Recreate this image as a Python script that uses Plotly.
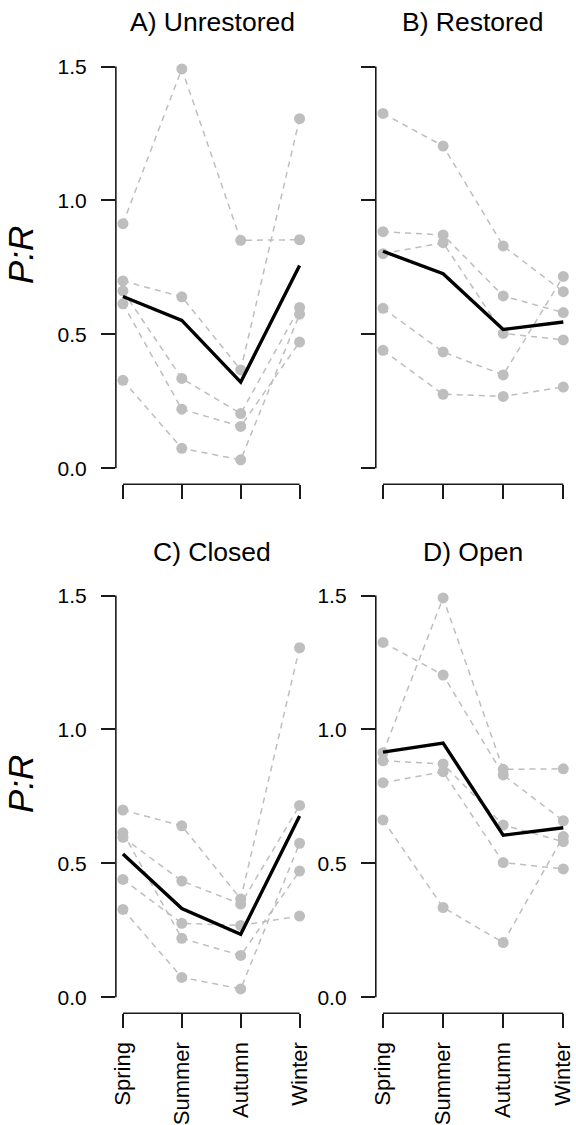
import plotly.graph_objects as go

# ---------------- data ----------------
seasons = ["Spring", "Summer", "Autumn", "Winter"]
season_pos = [1, 2, 3, 4]

# individual sites (P:R by season)
site_u1 = [0.913, 1.491, 0.851, 0.853]
site_u2 = [0.699, 0.640, 0.367, 1.305]
site_u3 = [0.662, 0.335, 0.204, 0.600]
site_u4 = [0.614, 0.220, 0.156, 0.471]
site_u5 = [0.328, 0.074, 0.031, 0.575]
site_r1 = [1.325, 1.203, 0.830, 0.659]
site_r2 = [0.883, 0.871, 0.643, 0.581]
site_r3 = [0.801, 0.842, 0.503, 0.479]
site_r4 = [0.597, 0.434, 0.348, 0.716]
site_r5 = [0.440, 0.276, 0.268, 0.303]

panel_titles = ["A) Unrestored", "B) Restored", "C) Closed", "D) Open"]
panel_a_sites = [site_u1, site_u2, site_u3, site_u4, site_u5]
panel_b_sites = [site_r1, site_r2, site_r3, site_r4, site_r5]
panel_c_sites = [site_u2, site_u4, site_u5, site_r4, site_r5]
panel_d_sites = [site_u1, site_u3, site_r1, site_r2, site_r3]

panel_a_mean = [0.641, 0.552, 0.321, 0.757]
panel_b_mean = [0.810, 0.726, 0.518, 0.546]
panel_c_mean = [0.535, 0.331, 0.235, 0.677]
panel_d_mean = [0.915, 0.949, 0.605, 0.633]

y_ticks = [0.0, 0.5, 1.0, 1.5]
y_tick_text = ["0.0", "0.5", "1.0", "1.5"]

# ---------------- layout geometry ----------------
W, H = 576, 1125
FONT = "Liberation Sans, Arial, Helvetica, sans-serif"
GRAY = "#BEBEBE"
AX = "#1a1a1a"


def fx(px):
    return px / W


def fy(py):
    return 1 - py / H


col_x = [(112, 306.5), (377, 575.5)]
row_y = [(50.6, 485.5), (581, 1016)]  # top, bottom in page px
title_x = [210.5, 476]
title_y = [22, 553.5]

panels = [
    (panel_a_sites, panel_a_mean, 0, 0),
    (panel_b_sites, panel_b_mean, 0, 1),
    (panel_c_sites, panel_c_mean, 1, 0),
    (panel_d_sites, panel_d_mean, 1, 1),
]

fig = go.Figure()
shapes = []
annotations = []

for i, (sites, mean, r, c) in enumerate(panels):
    n = i + 1
    xa = "x" if n == 1 else f"x{n}"
    ya = "y" if n == 1 else f"y{n}"
    for s in sites:
        fig.add_trace(go.Scatter(
            x=season_pos, y=s, xaxis=xa, yaxis=ya, mode="lines+markers",
            line=dict(color=GRAY, width=1.5, dash="6px,5px"),
            marker=dict(color=GRAY, size=11),
            showlegend=False, hoverinfo="skip", cliponaxis=False))
    fig.add_trace(go.Scatter(
        x=season_pos, y=mean, xaxis=xa, yaxis=ya, mode="lines",
        line=dict(color="black", width=3.4),
        showlegend=False, hoverinfo="skip", cliponaxis=False))

    x0, x1 = col_x[c]
    t, b = row_y[r]
    xdom = [fx(x0), fx(x1)]
    ydom = [fy(b), fy(t)]
    xkey = "xaxis" if n == 1 else f"xaxis{n}"
    ykey = "yaxis" if n == 1 else f"yaxis{n}"
    fig.update_layout(**{
        xkey: dict(domain=xdom, anchor=ya, range=[0.88, 4.12],
                   tickvals=season_pos, ticktext=seasons,
                   showticklabels=(r == 1), tickangle=-90,
                   ticks="outside", ticklen=14, tickwidth=1.6, tickcolor=AX,
                   ticklabelstandoff=5,
                   showgrid=False, zeroline=False, showline=False,
                   tickfont=dict(family=FONT, size=22, color="black")),
        ykey: dict(domain=ydom, anchor=xa, range=[-0.06, 1.56],
                   tickvals=y_ticks, ticktext=y_tick_text,
                   showticklabels=(not (r == 0 and c == 1)),
                   ticks="outside", ticklen=14, tickwidth=1.6, tickcolor=AX,
                   ticklabelstandoff=10,
                   showgrid=False, zeroline=False, showline=False,
                   tickfont=dict(family=FONT, size=21, color="black")),
    })
    # R-style axis lines spanning only the tick range
    shapes.append(dict(type="line", xref=f"{xa} domain", yref=ya,
                       x0=0, x1=0, y0=0, y1=1.5,
                       line=dict(color=AX, width=1.6)))
    shapes.append(dict(type="line", xref=xa, yref=f"{ya} domain",
                       x0=1, x1=4, y0=0, y1=0,
                       line=dict(color=AX, width=1.6)))
    # panel title
    annotations.append(dict(text=panel_titles[i], xref="paper", yref="paper",
                            x=fx(title_x[c]), y=fy(title_y[r]),
                            xanchor="center", yanchor="middle", showarrow=False,
                            font=dict(family=FONT, size=26.5, color="black")))
    # y-axis label
    if c == 0:
        annotations.append(dict(text="<i>P:R</i>", xref="paper", yref="paper",
                                x=fx(15), y=fy((t + b) / 2 - 12),
                                xanchor="center", yanchor="middle", textangle=-90,
                                showarrow=False,
                                font=dict(family=FONT, size=35, color="black")))

fig.update_layout(width=W, height=H, margin=dict(l=0, r=0, t=0, b=0),
                  paper_bgcolor="white", plot_bgcolor="white",
                  shapes=shapes, annotations=annotations)

fig.write_html("out.html", config={"displayModeBar": False},
               post_script="document.body.style.margin='0px';"
                           "document.body.style.overflow='hidden';")
